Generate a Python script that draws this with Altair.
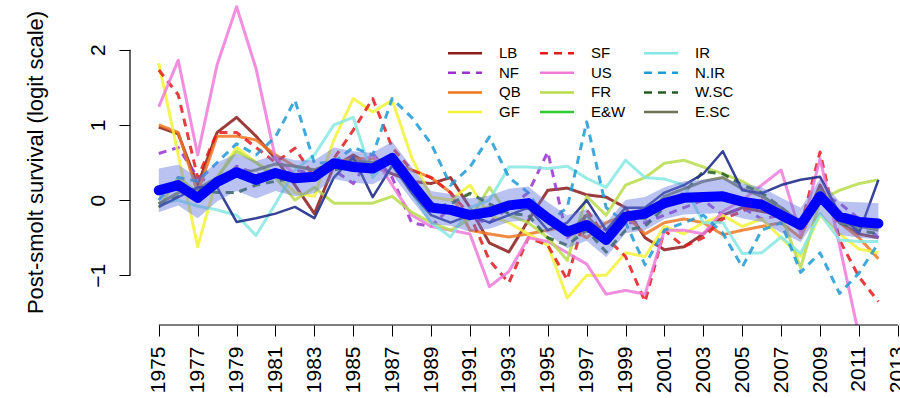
import altair as alt
import pandas as pd

years = list(range(1975, 2013))

LB = [0.97, 0.88, 0.20, 0.90, 1.10, 0.85, 0.55, 0.20, -0.18, 0.45,
      0.60, 0.45, 0.35, 0.25, 0.22, 0.30, -0.10, -0.57, -0.69, -0.27,
      0.13, 0.16, 0.07, 0.04, -0.10, -0.50, -0.66, -0.62, -0.45, -0.20,
      -0.10, -0.15, -0.20, -0.40, 0.20, -0.30, -0.45, -0.50]
NF = [0.62, 0.70, 0.30, 0.20, 0.45, 0.35, 0.30, 0.40, 0.35, 0.40,
      0.22, 0.62, 0.30, -0.30, -0.35, -0.10, -0.25, -0.30, -0.10, 0.10,
      0.64, -0.50, -0.30, -0.40, -0.30, -0.30, -0.20, -0.10, 0.00, -0.20,
      -0.10, -0.25, -0.20, -0.35, 0.10, -0.04, -0.25, -0.50]
QB = [1.00, 0.90, 0.10, 0.85, 0.85, 0.80, 0.60, 0.45, 0.40, 0.50,
      0.55, 0.55, 0.50, 0.40, 0.30, 0.10, -0.40, -0.45, -0.49, -0.45,
      -0.40, -0.35, -0.50, -0.30, -0.20, -0.45, -0.30, -0.25, -0.30, -0.46,
      -0.40, -0.35, -0.30, -0.50, 0.10, -0.30, -0.50, -0.78]
GF = [1.82, 0.60, -0.62, 0.30, 0.70, 0.50, 0.35, 0.10, 0.05, 0.80,
      1.35, 1.17, 1.33, 0.57, 0.04, 0.00, 0.20, -0.20, -0.30, -0.45,
      -0.60, -1.30, -1.00, -1.00, -0.70, -0.75, -0.35, -0.45, -0.30, -0.20,
      -0.35, -0.25, -0.50, -0.75, -0.20, -0.45, -0.65, -0.70]
SF = [1.73, 1.40, 0.30, 0.90, 0.90, 0.70, 0.50, 0.69, 0.30, 0.55,
      0.93, 1.35, 0.70, 0.40, 0.30, 0.10, -0.20, -0.80, -1.10, -0.50,
      -0.60, -1.06, -0.13, -0.50, -0.75, -1.35, -0.40, -0.62, -0.50, -0.25,
      -0.15, 0.00, -0.10, -0.35, 0.64, -0.53, -1.02, -1.35]
US = [1.24, 1.86, 0.60, 1.80, 2.57, 1.75, 0.55, 0.35, 0.30, 0.50,
      0.45, 0.60, 0.20, -0.20, -0.35, -0.40, -0.45, -1.15, -0.95, -0.50,
      -0.55, -0.70, -0.85, -1.25, -1.20, -1.25, -0.40, -0.40, -0.45, -0.15,
      0.00, 0.20, 0.40, -0.45, 0.55, -0.60, -1.80, -1.90]
FR = [-0.10, 0.30, 0.10, 0.30, 0.65, 0.50, 0.30, 0.00, 0.17, -0.04,
      -0.04, -0.04, 0.05, -0.16, -0.30, -0.40, -0.25, 0.17, -0.20, -0.30,
      -0.50, -0.80, 0.05, -0.20, 0.20, 0.30, 0.49, 0.53, 0.44, 0.35,
      0.25, 0.10, -0.20, -0.90, 0.00, 0.13, 0.22, 0.27]
EW = [0.15, 0.22, 0.05, 0.25, 0.35, 0.28, 0.34, 0.30, 0.33, 0.47,
      0.45, 0.43, 0.54, 0.20, -0.08, -0.12, -0.18, -0.15, -0.08, -0.05,
      -0.22, -0.40, -0.32, -0.50, -0.20, -0.17, -0.03, 0.02, 0.05, 0.04,
      -0.01, -0.05, -0.18, -0.31, 0.04, -0.20, -0.28, -0.30]
IR = [-0.05, 0.00, -0.08, -0.13, -0.20, -0.47, -0.05, 0.40, 0.60, 1.00,
      1.10, 0.30, 0.60, 0.10, -0.30, -0.49, -0.10, 0.00, 0.44, 0.44,
      0.42, 0.45, 0.29, 0.17, 0.53, 0.30, 0.28, 0.20, -0.30, -0.30,
      -0.71, -0.70, -0.49, -0.71, -0.18, -0.53, -0.55, -0.55]
NIR = [0.00, 0.30, 0.25, 0.50, 0.75, 0.60, 0.84, 1.33, 0.49, 0.50,
       0.70, 0.60, 1.35, 1.10, 0.75, 0.20, 0.44, 0.84, 0.30, 0.10,
       -0.30, -0.10, 1.04, -0.10, -0.30, -0.86, -0.40, -0.30, -0.20, -0.44,
       -0.89, -0.40, -0.30, -0.96, -0.70, -1.24, -0.97, -0.57]
WSC = [-0.05, 0.05, 0.15, 0.10, 0.10, 0.20, 0.25, 0.30, 0.35, 0.40,
       0.45, 0.45, 0.50, 0.10, -0.10, -0.05, 0.09, -0.05, -0.18, -0.20,
       -0.50, -0.60, -0.40, -0.69, -0.40, -0.35, -0.10, 0.10, 0.38, 0.35,
       0.20, 0.10, -0.10, -0.30, 0.00, -0.30, -0.40, -0.45]
ESC = [-0.05, 0.10, 0.15, 0.30, 0.35, 0.40, 0.48, 0.45, 0.40, 0.50,
       0.52, 0.50, 0.55, 0.20, -0.05, -0.10, -0.15, -0.10, -0.05, 0.00,
       -0.30, -0.45, -0.20, -0.50, -0.20, -0.25, 0.05, 0.15, 0.25, 0.30,
       0.15, 0.05, -0.10, -0.30, 0.15, -0.30, -0.35, -0.40]
OTHER = [-0.09, 0.04, 0.17, 0.17, -0.29, -0.24, -0.18, -0.09, -0.24, 0.30,
         0.57, 0.04, 0.46, 0.10, -0.20, -0.30, -0.20, -0.30, -0.20, -0.10,
         -0.40, -0.30, 0.00, -0.40, -0.10, -0.10, 0.10, 0.20, 0.35, 0.65,
         0.13, 0.09, 0.20, 0.27, 0.31, -0.18, -0.44, 0.27]
MEAN = [0.13, 0.20, 0.03, 0.24, 0.37, 0.27, 0.36, 0.29, 0.31, 0.49,
        0.44, 0.42, 0.56, 0.22, -0.10, -0.13, -0.20, -0.16, -0.07, -0.04,
        -0.24, -0.42, -0.33, -0.53, -0.22, -0.18, -0.04, 0.03, 0.04, 0.05,
        -0.02, -0.06, -0.20, -0.33, 0.05, -0.22, -0.29, -0.31]
HI = [0.42, 0.47, 0.30, 0.50, 0.62, 0.52, 0.60, 0.53, 0.53, 0.70,
      0.65, 0.63, 0.78, 0.44, 0.12, 0.08, 0.02, 0.06, 0.15, 0.18,
      -0.03, -0.20, -0.12, -0.30, 0.00, 0.04, 0.17, 0.25, 0.27, 0.28,
      0.22, 0.17, 0.03, -0.10, 0.28, -0.02, -0.03, -0.04]
LO = [-0.16, -0.07, -0.24, -0.02, 0.12, 0.02, 0.12, 0.05, 0.09, 0.28,
      0.23, 0.21, 0.34, 0.00, -0.32, -0.34, -0.42, -0.38, -0.29, -0.26,
      -0.45, -0.64, -0.54, -0.76, -0.44, -0.40, -0.25, -0.19, -0.18, -0.17,
      -0.24, -0.29, -0.43, -0.56, -0.18, -0.46, -0.50, -0.52]

series = {"LB": LB, "NF": NF, "QB": QB, "GF": GF, "SF": SF, "US": US,
          "FR": FR, "E&W": EW, "IR": IR, "N.IR": NIR, "W.SC": WSC, "E.SC": ESC}
for k, v in list(series.items()) + [("o", OTHER), ("m", MEAN), ("h", HI), ("l", LO)]:
    assert len(v) == len(years), k

colors = {"LB": "#8B1A1A", "NF": "#9A32CD", "QB": "#EE7621", "GF": "#F2F23A",
          "SF": "#E31A1C", "US": "#EE7AD9", "FR": "#B8DC4A", "E&W": "#2ECC2E",
          "IR": "#86E8E2", "N.IR": "#1E9AD6", "W.SC": "#245C24", "E.SC": "#6E7452"}
dashed = {"NF", "SF", "N.IR", "W.SC"}

# legend order: the legend grid fills column by column, as in the reference
legend_order = list(series.keys())

rows = []
for name, vals in series.items():
    for y, v in zip(years, vals):
        rows.append({"year": y, "region": name, "value": v})
df = pd.DataFrame(rows)

summary = pd.DataFrame({"year": years, "mean": MEAN, "lo": LO, "hi": HI, "other": OTHER})

X_MIN, X_MAX = 1973.52, 2013.11
Y_MIN, Y_MAX = -1.66, 2.66
xs = alt.Scale(domain=[X_MIN, X_MAX], nice=False, zero=False)
ys = alt.Scale(domain=[Y_MIN, Y_MAX], nice=False, zero=False)

FONT = "Liberation Sans"

x_axis = alt.Axis(values=list(range(1975, 2014, 2)), format="d", labelAngle=270,
                  labelAlign="right", labelBaseline="middle", labelFontSize=21,
                  labelPadding=10, tickSize=11, tickColor="black", domain=False,
                  grid=False, title=None, labelOverlap=False, labelFlush=False,
                  labelColor="black", labelFont=FONT)
y_axis = alt.Axis(values=[-1, 0, 1, 2], format="d", labelAngle=270, labelAlign="center",
                  labelBaseline="alphabetic", labelFontSize=21, labelPadding=15,
                  tickSize=11, tickColor="black", domain=False, grid=False,
                  labelExpr="datum.value < 0 ? '\u2212' + abs(datum.value) : datum.label",
                  title="Post-smolt survival (logit scale)", titleFontSize=22,
                  titleFontWeight="normal", titleFont=FONT, titleColor="black",
                  titleAngle=270, titleX=-95, titleY=162, titleBaseline="middle",
                  labelColor="black", labelFont=FONT)

leg = alt.Legend(orient="none", legendX=316.5, legendY=45.5, columns=3, title=None,
                 symbolType="stroke", symbolSize=1156, symbolStrokeWidth=2.5,
                 labelFontSize=15, labelOffset=15.5, rowPadding=3.7, columnPadding=17,
                 clipHeight=15, padding=0, labelFont=FONT, labelColor="black",
                 symbolOpacity=1)

lines = alt.Chart(df).mark_line(strokeWidth=3, opacity=0.85, clip=True,
                                strokeJoin="round").encode(
    x=alt.X("year:Q", scale=xs, axis=x_axis),
    y=alt.Y("value:Q", scale=ys, axis=y_axis),
    color=alt.Color("region:N", scale=alt.Scale(domain=legend_order,
                    range=[colors[k] for k in legend_order]), legend=leg),
    strokeDash=alt.StrokeDash("region:N", scale=alt.Scale(domain=legend_order,
                    range=[[8, 6] if k in dashed else [1, 0] for k in legend_order]),
                    legend=leg),
)

other = alt.Chart(summary).mark_line(strokeWidth=2.5, color="#1F2E8A", opacity=0.9,
                                     clip=True, strokeJoin="round").encode(
    x=alt.X("year:Q", scale=xs), y=alt.Y("other:Q", scale=ys))

band = alt.Chart(summary).mark_area(color="#6478DE", opacity=0.45, clip=True).encode(
    x=alt.X("year:Q", scale=xs), y=alt.Y("lo:Q", scale=ys), y2="hi:Q")

mean = alt.Chart(summary).mark_line(strokeWidth=10, color="#0000FF", clip=True,
                                    strokeJoin="round", strokeCap="round").encode(
    x=alt.X("year:Q", scale=xs), y=alt.Y("mean:Q", scale=ys))

axis_lines = pd.DataFrame({"x": [1975, X_MIN], "x2": [2013, X_MIN],
                           "y": [Y_MIN, -1], "y2": [Y_MIN, 2]})
axes = alt.Chart(axis_lines).mark_rule(color="black", strokeWidth=1.2).encode(
    x=alt.X("x:Q", scale=xs), x2="x2:Q", y=alt.Y("y:Q", scale=ys), y2="y2:Q")

chart = alt.layer(lines, other, band, mean, axes).properties(
    width=770, height=325,
    autosize=alt.AutoSizeParams(type="none"),
    padding={"left": 130, "top": 0, "right": 0, "bottom": 73},
    background="white",
).configure_view(stroke=None)

chart.save("out.html", embed_options={"renderer": "svg", "actions": False})
